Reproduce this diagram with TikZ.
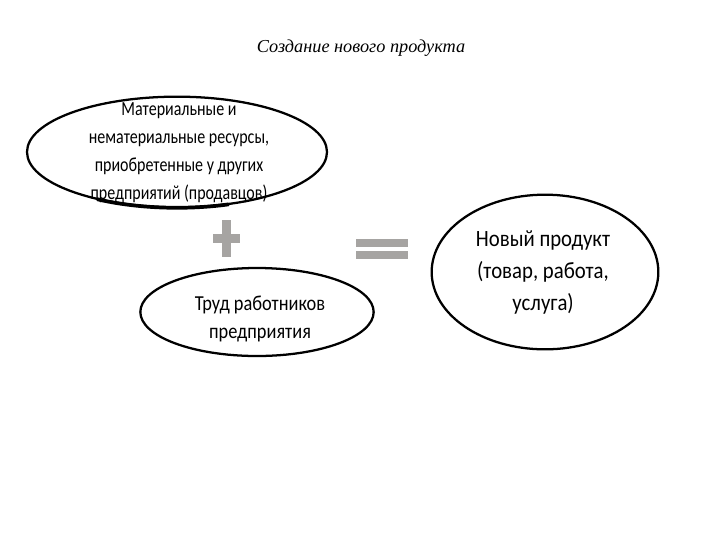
\documentclass[tikz,border=0pt]{standalone}
\usepackage{fontspec}
\setmainfont{Carlito}
\newfontfamily\titlefont{Liberation Serif}
\newfontfamily\resfont[FakeStretch=0.8]{Carlito}
\newfontfamily\laborfont[FakeStretch=0.86]{Carlito}
\newfontfamily\prodfont[FakeStretch=0.89]{Carlito}
\usetikzlibrary{shapes.geometric,positioning}
\definecolor{signgray}{RGB}{166,164,162}

\begin{document}
\begin{tikzpicture}[x=0.75pt,y=0.75pt,yscale=-1,xscale=1,
  oval/.style={draw=black,line width=1.7pt,ellipse,inner sep=0pt},
  ovaltext/.style={align=center,inner sep=0.75pt}]
\useasboundingbox (0,0) rectangle (720,540);

% Title
\node [inner sep=0.75pt,font=\titlefont\itshape\fontsize{13.7}{16}\selectfont] (title) at (361,48) {Создание нового продукта};

% Ellipses
\node [oval,minimum width=225pt,minimum height=83pt] (res) at (177,152) {};
\node [oval,minimum width=175pt,minimum height=66pt] (labor) at (257,312) {};
\node [oval,minimum width=170pt,minimum height=116pt] (product) at (545,272) {};
% heavier stroke along the bottom of the first ellipse
\draw [line width=2.8pt,line cap=round] (228.3,204.4) arc [start angle=70,end angle=122,x radius=150,y radius=55.8];

% Text Node
\node [ovaltext,font=\resfont\fontsize{15}{21}\selectfont] (restext) at (179,153) {Материальные и\\нематериальные ресурсы,\\приобретенные у других\\предприятий (продавцов)};
% Text Node
\node [ovaltext,font=\laborfont\fontsize{16}{21}\selectfont] (labortext) at (260,319) {Труд работников\\предприятия};
% Text Node
\node [ovaltext,font=\prodfont\fontsize{17.5}{24}\selectfont] (producttext) at (543,272) {Новый продукт\\(товар, работа,\\услуга)};

% Plus sign
\fill [signgray] (222,220) rectangle (231,257);
\fill [signgray] (213,234) rectangle (240,243);
% Equals sign
\fill [signgray] (356,239) rectangle (408,247);
\fill [signgray] (356,251) rectangle (408,259);

\end{tikzpicture}
\end{document}
